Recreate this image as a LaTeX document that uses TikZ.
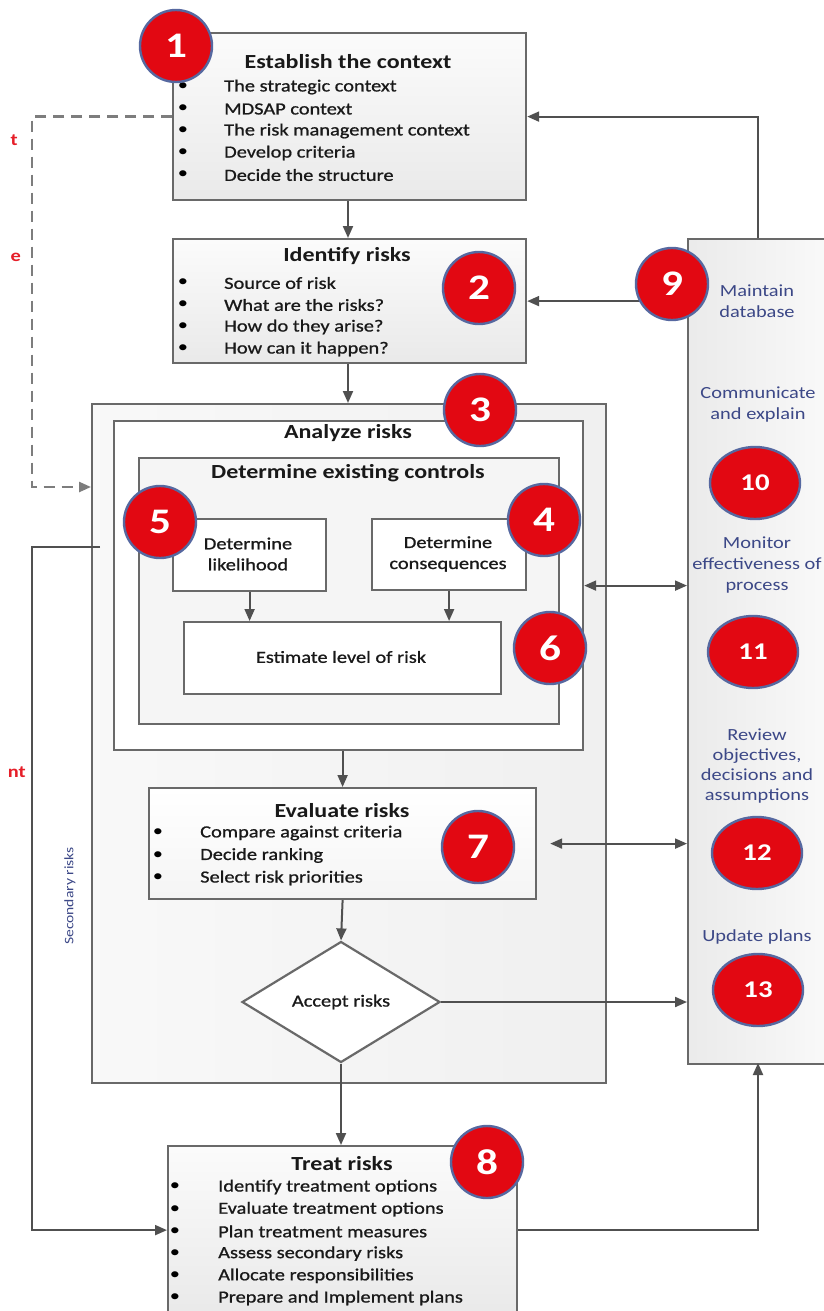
\documentclass[tikz,border=0pt]{standalone}
\usepackage{fontspec}
\setmainfont{Carlito}[FakeStretch=1.2]
\newfontfamily\semifont{Carlito}[FakeStretch=1.2, FakeBold=0.9]
\usetikzlibrary{arrows.meta,shapes.geometric,calc}
\definecolor{numred}{RGB}{226,8,18}
\definecolor{numblue}{RGB}{86,104,160}
\definecolor{bordergray}{RGB}{105,105,105}
\definecolor{linegray}{RGB}{80,80,80}
\definecolor{dashgray}{RGB}{125,125,125}
\definecolor{ptextblue}{RGB}{60,72,135}
\definecolor{fragred}{RGB}{230,30,40}
\definecolor{txt}{RGB}{25,25,25}
\tikzset{
  box/.style={draw=bordergray, line width=2.2pt, rectangle, inner sep=0pt, anchor=north west},
  gradbox/.style={box, top color=gray!3, bottom color=gray!17},
  num/.style={circle, fill=numred, draw=numblue, line width=2.4pt, text=white,
    font=\fontsize{36}{38}\selectfont\bfseries, minimum size=72pt, inner sep=0pt},
  numel/.style={ellipse, fill=numred, draw=numblue, line width=2.4pt, text=white,
    font=\fontsize{24}{26}\selectfont\bfseries, minimum width=90pt, minimum height=72pt, inner sep=0pt},
  arr/.style={draw=linegray, line width=2pt, -{Triangle[length=12pt,width=10pt]}},
  darr/.style={draw=linegray, line width=2pt, {Triangle[length=12pt,width=10pt]}-{Triangle[length=12pt,width=10pt]}},
  dasharr/.style={draw=dashgray, line width=2.4pt, dash pattern=on 11pt off 7pt, -{Triangle[length=12pt,width=10pt]}},
  title/.style={font=\fontsize{20}{22}\selectfont\bfseries, text=txt, inner sep=0pt},
  item/.style={font=\fontsize{17}{20}\selectfont\semifont, text=txt, anchor=west, inner sep=0pt},
  bul/.style={font=\fontsize{17}{20}\selectfont, text=black, inner sep=0pt},
  inner/.style={font=\fontsize{17}{21}\selectfont\semifont, text=txt, align=center, inner sep=0pt},
  ptext/.style={font=\fontsize{17}{21}\selectfont, text=ptextblue, align=center, inner sep=0pt},
  frag/.style={font=\fontsize{17}{20}\selectfont\bfseries, text=fragred, anchor=east, inner sep=0pt}
}
\begin{document}
\begin{tikzpicture}[x=1pt,y=-1pt]
\useasboundingbox (0,0) rectangle (824,1311);
\clip (0,0) rectangle (824,1311);
\fill[white] (0,0) rectangle (824,1311);

% red fragments at the left edge
\node[frag] (fr1) at (18,140) {t};
\node[frag] (fr2) at (21,257) {e};
\node[frag] (fr3) at (26,772) {nt};

% right panel
\node[box, left color=gray!16, right color=gray!4, minimum width=150pt, minimum height=825pt] (pan) at (687,238) {};
\coordinate (pantop) at (758,238);
\coordinate (panbot) at (758,1063);

% box 1
\node[gradbox, minimum width=353pt, minimum height=167pt] (b1) at (172,32) {};
\node[title] (b1t) at (348,62) {Establish the context};
\foreach \t [count=\i] in {The strategic context, MDSAP context, The risk management context, Develop criteria, Decide the structure}{
  \node[bul] (b1b\i) at (183,{87+(\i-1)*22}) {•};
  \node[item] (b1i\i) at (224,{87+(\i-1)*22}) {\t};
}

% box 2
\node[gradbox, minimum width=353pt, minimum height=124pt] (b2) at (172,238) {};
\node[title] (b2t) at (347,256) {Identify risks};
\foreach \t [count=\i] in {Source of risk, What are the risks?, How do they arise?, How can it happen?}{
  \node[bul] (b2b\i) at (183,{283+(\i-1)*22}) {•};
  \node[item] (b2i\i) at (224,{283+(\i-1)*22}) {\t};
}

% outer box 3
\node[box, left color=gray!5, right color=gray!12, minimum width=514pt, minimum height=679pt] (out3) at (91,403) {};
\node[box, fill=white, minimum width=469pt, minimum height=329pt] (ana) at (113,420) {};
\node[title] (anat) at (348,433) {Analyze risks};
\node[box, fill=gray!8, minimum width=420pt, minimum height=266pt] (ctl) at (138,457) {};
\node[title] (ctlt) at (348,473) {Determine existing controls};
\node[box, fill=white, minimum width=153pt, minimum height=72pt] (lik) at (172,518) {};
\node[inner] (likt) at (248,554) {Determine\\likelihood};
\node[box, fill=white, minimum width=154pt, minimum height=71pt] (con) at (371,518) {};
\node[inner] (cont) at (448,554) {Determine\\consequences};
\node[box, fill=white, minimum width=317pt, minimum height=72pt] (est) at (183,621) {};
\node[inner] (estt) at (341,657) {Estimate level of risk};

% evaluate
\node[box, top color=white, bottom color=gray!8, minimum width=387pt, minimum height=111pt] (eval) at (148,787) {};
\node[title] (evalt) at (342,811) {Evaluate risks};
\foreach \t [count=\i] in {Compare against criteria, Decide ranking, Select risk priorities}{
  \node[bul] (evb\i) at (158,{833+(\i-1)*22.5}) {•};
  \node[item] (evi\i) at (200,{833+(\i-1)*22.5}) {\t};
}

% diamond
\node[diamond, draw=bordergray, line width=2.2pt, fill=white, minimum width=198pt, minimum height=121pt, inner sep=0pt, aspect=1.64] (dia) at (341,1002) {};
\node[inner] (diat) at (341,1002) {Accept risks};

% treat
\node[gradbox, minimum width=349pt, minimum height=168pt] (treat) at (167,1145) {};
\node[title] (treatt) at (342,1164) {Treat risks};
\foreach \t [count=\i] in {Identify treatment options, Evaluate treatment options, Plan treatment measures, Assess secondary risks, Allocate responsibilities, Prepare and Implement plans}{
  \node[bul] (trb\i) at (175,{1187+(\i-1)*22.2}) {•};
  \node[item] (tri\i) at (218,{1187+(\i-1)*22.2}) {\t};
}

% secondary risks label
\node[font=\fontsize{13}{15}\selectfont, text=ptextblue, rotate=90, inner sep=0pt] (sec) at (70,896) {Secondary risks};

% connectors
\draw[arr] (b1.south -| 348,0) -- (b2.north -| 348,0);
\draw[arr] (b2.south -| 348,0) -- (out3.north -| 348,0);
\draw[arr] (lik.south) -- (lik.south |- est.north);
\draw[arr] (con.south) -- (con.south |- est.north);
\draw[arr] (eval.north |- ana.south) -- (eval.north);
\draw[arr] (eval.south) -- (dia.north);
\draw[arr] (dia.south) -- (dia.south |- treat.north);
\draw[arr] (dia.east) -- (dia.east -| pan.west);
\draw[darr] (ana.east) -- (ana.east -| pan.west);
\draw[darr, shorten <=13pt] (eval.east) -- (eval.east -| pan.west);
\draw[arr] (pantop) |- (b1.east);
\draw[arr] (pan.west |- b2.east) -- (b2.east);
\coordinate (dc) at (32,487);
\draw[dasharr] (b1.west) -| (dc) -- (dc -| out3.west);
\coordinate (sr) at (100,547);
\coordinate (sl) at (32,547);
\draw[arr] (sr) -- (sl) |- (treat.west);
\draw[arr] (treat.east) -| (panbot);

% panel texts
\node[ptext] (p9t) at (757,301) {Maintain\\database};
\node[ptext] (p10t) at (758,405) {Communicate\\and explain};
\node[ptext] (p11t) at (757,565) {Monitor\\effectiveness of\\process};
\node[ptext, font=\fontsize{17}{20}\selectfont] (p12t) at (757,766) {Review\\objectives,\\decisions and\\assumptions};
\node[ptext] (p13t) at (757,937) {Update plans};

% number badges
\node[num] (n1) at (176,46) {1};
\node[num] (n2) at (479,288) {2};
\node[num] (n3) at (480,410) {3};
\node[num] (n4) at (544,520) {4};
\node[num] (n5) at (160,522) {5};
\node[num] (n6) at (550,648) {6};
\node[num] (n7) at (478,847) {7};
\node[num] (n8) at (487,1162) {8};
\node[num] (n9) at (672,284) {9};
\node[numel] (n10) at (755,483) {10};
\node[numel] (n11) at (753,652) {11};
\node[numel] (n12) at (757,853) {12};
\node[numel] (n13) at (758,990) {13};
\end{tikzpicture}
\end{document}
